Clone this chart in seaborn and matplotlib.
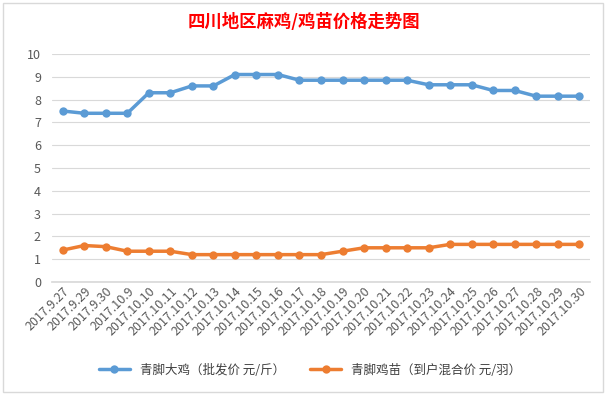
import pandas as pd
import numpy as np
import matplotlib
matplotlib.use("Agg")
import matplotlib.pyplot as plt
import seaborn as sns

dates = ['2017.9.27', '2017.9.29', '2017.9.30', '2017.10.9', '2017.10.10', '2017.10.11',
         '2017.10.12', '2017.10.13', '2017.10.14', '2017.10.15', '2017.10.16', '2017.10.17',
         '2017.10.18', '2017.10.19', '2017.10.20', '2017.10.21', '2017.10.22', '2017.10.23',
         '2017.10.24', '2017.10.25', '2017.10.26', '2017.10.27', '2017.10.28', '2017.10.29',
         '2017.10.30']
big_chicken = [7.5, 7.4, 7.4, 7.4, 8.3, 8.3, 8.6, 8.6, 9.1, 9.1, 9.1, 8.85, 8.85, 8.85,
               8.85, 8.85, 8.85, 8.65, 8.65, 8.65, 8.4, 8.4, 8.15, 8.15, 8.15]
chick = [1.4, 1.6, 1.55, 1.35, 1.35, 1.35, 1.2, 1.2, 1.2, 1.2, 1.2, 1.2, 1.2, 1.35,
         1.5, 1.5, 1.5, 1.5, 1.65, 1.65, 1.65, 1.65, 1.65, 1.65, 1.65]
s1 = '青脚大鸡（批发价 元/斤）'
s2 = '青脚鸡苗（到户混合价 元/羽）'

df = pd.concat([
    pd.DataFrame({'date': dates, 'price': big_chicken, 'series': s1}),
    pd.DataFrame({'date': dates, 'price': chick, 'series': s2}),
])

sns.set_theme(style='white')
plt.rcParams['font.family'] = ['Noto Sans CJK SC', 'DejaVu Sans']

fig = plt.figure(figsize=(6.08, 3.95), dpi=100)
ax = fig.add_axes([52/608, 1-282/395, (590-52)/608, (282-54)/395])

sns.lineplot(data=df, x='date', y='price', hue='series', sort=False,
             palette=['#5B9BD5', '#ED7D31'], marker='o', markersize=6,
             markeredgewidth=0, linewidth=2.5, ax=ax)

ax.set_ylim(0, 10)
ax.set_yticks(range(0, 11))
ax.set_xlim(-0.5, len(dates)-0.5)
ax.yaxis.grid(True, color='#D9D9D9', linewidth=0.8)
ax.set_axisbelow(True)
for s in ['top', 'right', 'left']:
    ax.spines[s].set_visible(False)
ax.spines['bottom'].set_color('#D9D9D9')
ax.set_xlabel('')
ax.set_ylabel('')
ax.tick_params(axis='y', labelsize=9, colors='#595959', length=0, pad=8)
ax.tick_params(axis='x', labelsize=9, colors='#595959', length=0, pad=2)
plt.setp(ax.get_xticklabels(), rotation=45, ha='right', rotation_mode='anchor')

fig.text(0.5, 1-22/395, '四川地区麻鸡/鸡苗价格走势图', color='#FF0000', fontsize=12.5,
         fontweight='bold', ha='center', va='center')

handles, labels = ax.get_legend_handles_labels()
ax.legend_.remove()
fig.legend(handles, labels, loc='center', bbox_to_anchor=(0.51, 1-370/395), ncol=2,
           frameon=False, fontsize=9, handlelength=2.5, columnspacing=2.0,
           labelcolor='#404040')

fig.patches.append(plt.Rectangle((3/608, 3/395), 600/608, 389/395, transform=fig.transFigure,
                                 fill=False, edgecolor='#D9D9D9', linewidth=1))

fig.savefig('out.png', dpi=100)
